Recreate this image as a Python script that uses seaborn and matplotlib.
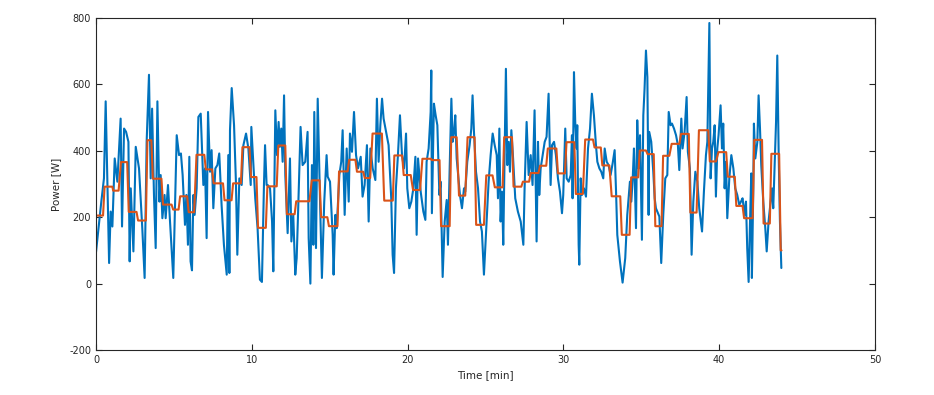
import numpy as np
import pandas as pd
import matplotlib
matplotlib.use("Agg")
import matplotlib.pyplot as plt
import seaborn as sns

# Raw power readings (time in minutes, power in W)
time_min = [
    0.00, 0.34, 0.51, 0.62, 0.84, 0.94, 1.05, 1.20, 1.37, 1.58, 1.67, 1.80, 1.93, 2.08, 2.16, 2.23,
    2.30, 2.40, 2.55, 2.76, 2.97, 3.12, 3.25, 3.40, 3.51, 3.60, 3.72, 3.83, 3.94, 4.07, 4.15, 4.26,
    4.40, 4.47, 4.62, 4.75, 4.96, 5.18, 5.33, 5.45, 5.56, 5.71, 5.80, 5.90, 5.99, 6.07, 6.16, 6.25,
    6.33, 6.46, 6.57, 6.72, 6.89, 7.00, 7.10, 7.19, 7.32, 7.42, 7.53, 7.66, 7.79, 7.91, 8.06, 8.21,
    8.39, 8.49, 8.56, 8.60, 8.71, 8.86, 8.98, 9.07, 9.20, 9.35, 9.46, 9.63, 9.78, 9.93, 9.97, 10.10,
    10.22, 10.37, 10.52, 10.65, 10.78, 10.85, 10.95, 11.02, 11.17, 11.30, 11.38, 11.51, 11.62, 11.72,
    11.80, 11.89, 11.98, 12.07, 12.15, 12.30, 12.45, 12.54, 12.66, 12.79, 12.88, 12.96, 13.13, 13.26,
    13.43, 13.58, 13.65, 13.76, 13.86, 13.95, 14.01, 14.12, 14.23, 14.38, 14.50, 14.65, 14.80, 14.87,
    15.02, 15.19, 15.25, 15.36, 15.45, 15.62, 15.74, 15.83, 15.96, 16.09, 16.22, 16.30, 16.43, 16.56,
    16.69, 16.82, 16.99, 17.11, 17.24, 17.39, 17.50, 17.61, 17.76, 17.93, 18.03, 18.14, 18.25, 18.36,
    18.46, 18.78, 18.95, 19.04, 19.13, 19.25, 19.38, 19.51, 19.64, 19.77, 19.90, 19.98, 20.11, 20.24,
    20.37, 20.50, 20.58, 20.67, 20.84, 21.01, 21.14, 21.22, 21.35, 21.48, 21.52, 21.56, 21.69, 21.80,
    21.91, 22.04, 22.12, 22.25, 22.38, 22.51, 22.59, 22.70, 22.81, 22.89, 22.98, 23.06, 23.15, 23.28,
    23.36, 23.49, 23.62, 23.70, 23.83, 23.98, 24.09, 24.17, 24.26, 24.39, 24.52, 24.65, 24.77, 24.90,
    25.05, 25.20, 25.33, 25.46, 25.59, 25.72, 25.80, 25.89, 25.97, 26.06, 26.14, 26.23, 26.31, 26.40,
    26.49, 26.57, 26.66, 26.76, 26.91, 27.08, 27.26, 27.43, 27.51, 27.64, 27.77, 27.90, 28.02, 28.15,
    28.24, 28.28, 28.37, 28.45, 28.54, 28.67, 28.80, 28.92, 29.05, 29.18, 29.27, 29.40, 29.52, 29.65,
    29.78, 29.91, 29.99, 30.12, 30.21, 30.34, 30.47, 30.55, 30.59, 30.68, 30.76, 30.85, 30.89, 30.98,
    31.02, 31.11, 31.19, 31.32, 31.45, 31.58, 31.71, 31.83, 31.96, 32.09, 32.18, 32.31, 32.43, 32.56,
    32.65, 32.78, 32.90, 33.03, 33.16, 33.29, 33.38, 33.46, 33.63, 33.80, 33.97, 34.10, 34.27, 34.36,
    34.45, 34.53, 34.62, 34.66, 34.74, 34.83, 34.92, 35.04, 35.13, 35.21, 35.30, 35.39, 35.47, 35.51,
    35.64, 35.77, 35.86, 35.94, 36.03, 36.16, 36.28, 36.41, 36.54, 36.67, 36.76, 36.88, 36.97, 37.10,
    37.23, 37.35, 37.44, 37.57, 37.65, 37.78, 37.91, 37.99, 38.12, 38.23, 38.34, 38.47, 38.60, 38.72,
    38.90, 39.02, 39.15, 39.24, 39.37, 39.45, 39.54, 39.62, 39.71, 39.79, 39.88, 39.96, 40.09, 40.18,
    40.26, 40.35, 40.44, 40.52, 40.65, 40.78, 40.91, 41.03, 41.16, 41.29, 41.40, 41.50, 41.63, 41.72,
    41.80, 41.89, 41.98, 42.06, 42.10, 42.19, 42.23, 42.32, 42.45, 42.53, 42.62, 42.70, 42.83, 42.96,
    43.05, 43.17, 43.30, 43.39, 43.47, 43.56, 43.65, 43.73, 43.82, 43.90, 43.99,
]
power_w = [
    95, 247, 317, 549, 62, 217, 172, 377, 307, 497, 172, 467, 457, 427, 67, 287,
    207, 97, 412, 347, 167, 17, 427, 629, 317, 527, 267, 107, 549, 247, 327, 197,
    267, 197, 297, 187, 17, 447, 387, 392, 327, 177, 267, 117, 382, 67, 40, 267,
    207, 287, 502, 512, 297, 347, 137, 517, 337, 402, 227, 347, 357, 392, 237, 117,
    27, 387, 32, 462, 589, 477, 307, 87, 317, 297, 417, 452, 407, 297, 472, 357,
    257, 167, 12, 5, 297, 417, 297, 297, 287, 187, 37, 522, 387, 487,
    412, 467, 367, 567, 327, 152, 377, 127, 207, 27, 77, 197, 472, 357,
    367, 457, 137, 0, 357, 117, 517, 107, 557, 247, 17, 247, 387, 322,
    307, 147, 27, 207, 167, 327, 367, 462, 207, 407, 247, 452, 397, 517,
    387, 347, 382, 262, 297, 417, 187, 407, 347, 312, 557, 367, 477, 557,
    497, 417, 257, 87, 32, 287, 387, 507, 387, 347, 452, 287, 227, 247,
    287, 382, 147, 377, 277, 217, 192, 367, 407, 517, 642, 212, 542, 507,
    477, 267, 307, 20, 187, 252, 117, 347, 557, 427, 457, 507, 377, 307,
    267, 227, 287, 277, 367, 417, 467, 567, 457, 337, 287, 187, 157, 27,
    167, 307, 387, 452, 417, 387, 257, 467, 187, 277, 117, 387, 647, 357,
    427, 337, 462, 387, 257, 217, 187, 117, 287, 487, 327, 387, 297, 522,
    247, 127, 427, 267, 347, 387, 427, 442, 572, 297, 417, 427, 387, 317,
    277, 212, 267, 467, 317, 307, 327, 447, 257, 637, 487, 407, 477, 117,
    57, 317, 267, 287, 262, 407, 467, 572, 507, 417, 367, 347, 337, 317,
    407, 367, 357, 327, 362, 402, 277, 147, 67, 3, 77, 207, 307, 247,
    317, 407, 237, 167, 492, 347, 447, 132, 507, 587, 702, 622, 207, 457,
    427, 337, 257, 227, 217, 202, 62, 207, 317, 327, 517, 477, 482, 467,
    447, 417, 342, 497, 407, 457, 562, 397, 347, 87, 247, 337, 307, 227,
    157, 277, 387, 427, 785, 317, 407, 427, 477, 262, 407, 447, 537, 407,
    482, 287, 367, 197, 317, 387, 347, 287, 267, 237, 247, 257, 207, 247,
    107, 5, 187, 332, 17, 287, 482, 377, 427, 567, 467, 357, 247, 167,
    97, 187, 247, 287, 227, 357, 487, 687, 387, 187, 47,
]

# Smoothed power: plateau start/end (min) and level (W)
smooth_start = [0.0, 0.55, 1.1, 1.6, 2.1, 2.7, 3.3, 3.65, 4.3, 4.95, 5.4, 5.95, 6.45, 7.05, 7.55,
                8.25, 8.8, 9.4, 9.95, 10.4, 11.0, 11.7, 12.25, 12.85, 13.85, 14.45, 14.95, 15.6,
                16.25, 16.75, 17.25, 17.75, 18.5, 19.15, 19.75, 20.35, 20.95, 21.55, 22.15, 22.8,
                23.3, 23.85, 24.4, 25.05, 25.6, 26.2, 26.8, 27.4, 27.9, 28.5, 29.0, 29.65, 30.2,
                30.8, 31.4, 32.0, 32.5, 33.1, 33.75, 34.35, 34.9, 35.4, 35.9, 36.4, 36.95, 37.55,
                38.15, 38.7, 39.4, 39.95, 40.55, 41.1, 41.6, 42.25, 42.85, 43.35, 43.95]
smooth_end = [0.45, 1.05, 1.45, 2.0, 2.6, 3.2, 3.55, 4.2, 4.85, 5.3, 5.85, 6.3, 6.95, 7.45, 8.15,
              8.7, 9.3, 9.85, 10.3, 10.9, 11.6, 12.15, 12.75, 13.7, 14.35, 14.85, 15.5, 16.15,
              16.65, 17.15, 17.6, 18.35, 19.05, 19.65, 20.2, 20.8, 21.5, 22.05, 22.7, 23.15,
              23.7, 24.3, 24.9, 25.45, 26.1, 26.7, 27.3, 27.8, 28.4, 28.9, 29.55, 30.1, 30.7,
              31.25, 31.9, 32.4, 32.95, 33.65, 34.25, 34.8, 35.3, 35.8, 36.3, 36.8, 37.45, 38.05,
              38.55, 39.3, 39.8, 40.45, 41.0, 41.5, 42.15, 42.75, 43.25, 43.85, 44.0]
smooth_level = [205, 292, 280, 366, 216, 190, 432, 316, 238, 223, 263, 215, 388, 344, 302,
                251, 302, 411, 321, 168, 293, 416, 209, 248, 311, 200, 173, 338,
                373, 337, 318, 452, 250, 386, 327, 282, 376, 372, 173, 441,
                265, 441, 177, 326, 290, 441, 292, 307, 333, 355, 407, 332, 426,
                270, 434, 410, 356, 263, 147, 320, 401, 390, 173, 385, 421, 451,
                214, 462, 368, 396, 322, 234, 197, 433, 181, 391, 100]

raw_df = pd.DataFrame({"time": time_min, "power": power_w})
smooth_df = pd.DataFrame({
    "time": [t for a, b in zip(smooth_start, smooth_end) for t in (a, b)],
    "power": [v for v in smooth_level for _ in range(2)],
})

sns.set_style("ticks")
plt.rcParams["font.family"] = ["DejaVu Sans"]
plt.rcParams["axes.unicode_minus"] = False

fig = plt.figure(figsize=(9.34, 3.95), dpi=100)
ax = fig.add_axes([0.1028, 0.1139, 0.834, 0.8405])

sns.lineplot(data=raw_df, x="time", y="power", ax=ax, color="#0072BD",
             linewidth=1.5, sort=False, estimator=None)
sns.lineplot(data=smooth_df, x="time", y="power", ax=ax, color="#D95319",
             linewidth=1.5, sort=False, estimator=None)

ax.set_xlim(0, 50)
ax.set_ylim(-200, 800)
ax.set_xticks(range(0, 51, 10))
ax.set_yticks(range(-200, 801, 200))
ax.tick_params(direction="in", length=4, width=0.8, labelsize=7,
               top=True, right=True, colors="#262626")
for s in ax.spines.values():
    s.set_visible(True)
    s.set_linewidth(0.8)
    s.set_color("#262626")
ax.set_xlabel("Time [min]", fontsize=7.5, labelpad=4)
ax.set_ylabel("Power [W]", fontsize=7.5, labelpad=6)

fig.savefig("out.png", dpi=100)
